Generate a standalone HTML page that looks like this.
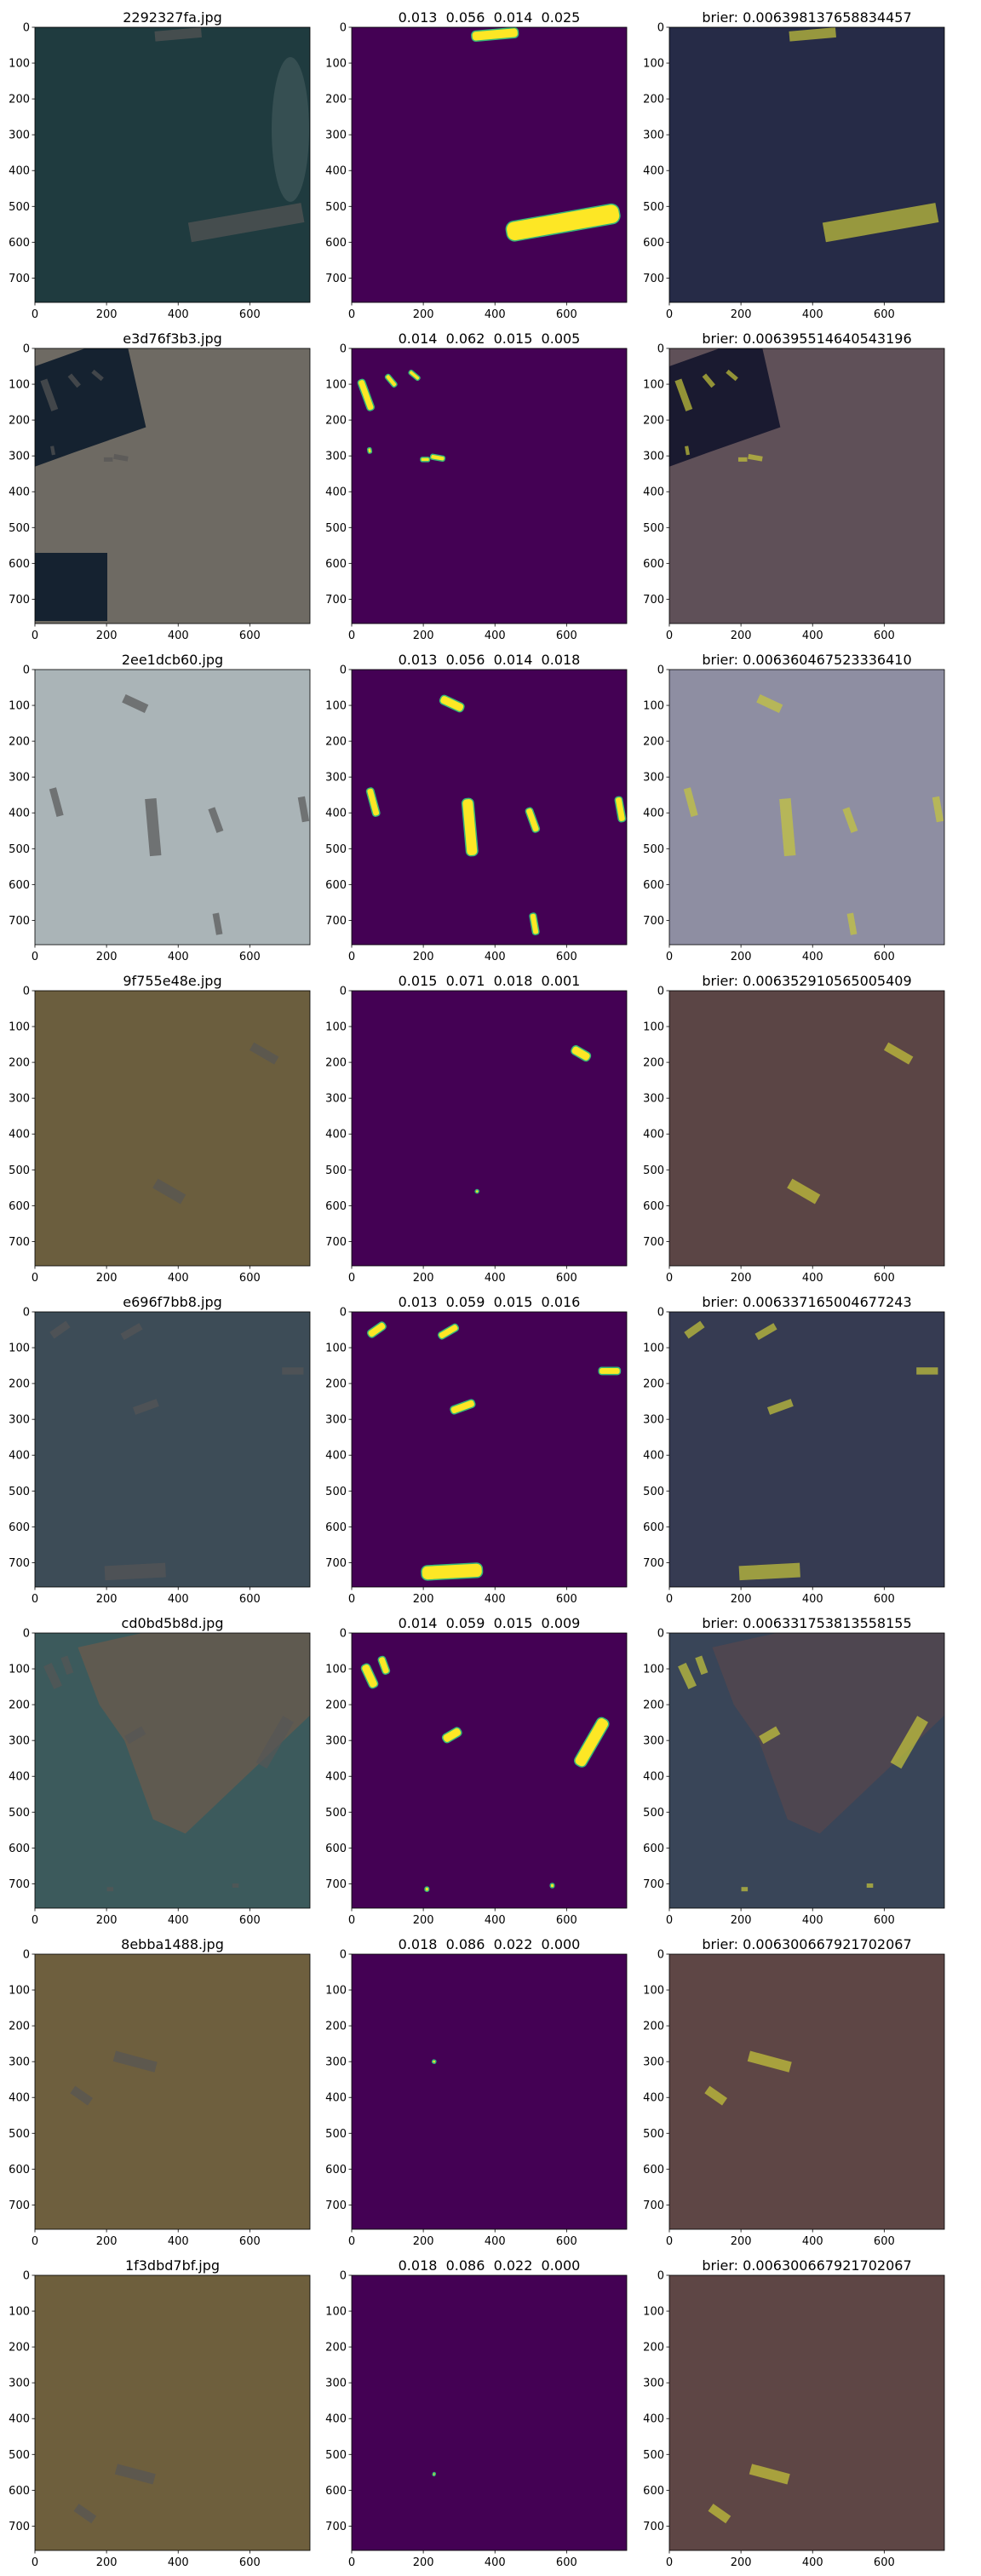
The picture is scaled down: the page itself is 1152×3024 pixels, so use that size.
<!DOCTYPE html>
<html><head><meta charset="utf-8">
<style>
html,body{margin:0;padding:0;background:#fff;}
svg{display:block;font-family:"DejaVu Sans","Liberation Sans",sans-serif;}
</style></head>
<body>
<svg id="fig" width="1152" height="3024" viewBox="0 0 1152 3024" xmlns="http://www.w3.org/2000/svg"></svg>
<script>
// ---- data ----
const imageNames = ["2292327fa.jpg","e3d76f3b3.jpg","2ee1dcb60.jpg","9f755e48e.jpg","e696f7bb8.jpg","cd0bd5b8d.jpg","8ebba1488.jpg","1f3dbd7bf.jpg"];
const maskScores = ["0.013  0.056  0.014  0.025","0.014  0.062  0.015  0.005","0.013  0.056  0.014  0.018","0.015  0.071  0.018  0.001","0.013  0.059  0.015  0.016","0.014  0.059  0.015  0.009","0.018  0.086  0.022  0.000","0.018  0.086  0.022  0.000"];
const brierScores = ["0.006398137658834457","0.006395514640543196","0.006360467523336410","0.006352910565005409","0.006337165004677243","0.006331753813558155","0.006300667921702067","0.006300667921702067"];
const imageColors = ["#1f3b3f","#6e6a63","#aab4b7","#6b5e3e","#3d4c57","#3c5a5c","#6e5f3e","#6e5f3d"];
const overlayColors = ["#262b47","#5f5058","#8e8ea2","#5b4545","#363b52","#394558","#5e4645","#5e4645"];
// ships per row: [cx, cy, length, width, angleDeg] in image pixel units (0-768)
const ships = [
 [[400,20,130,28,-5],[590,545,320,55,-10]],
 [[40,130,90,20,70],[110,90,40,14,50],[175,75,35,12,40],[240,305,40,14,10],[205,310,25,12,0],[50,285,25,10,80]],
 [[280,95,70,25,25],[330,440,160,32,85],[60,370,80,20,75],[505,420,70,20,70],[750,390,70,20,80],[510,710,60,18,80]],
 [[640,175,80,25,30],[375,560,90,30,30]],
 [[70,50,55,22,-35],[270,55,60,20,-30],[720,165,60,20,0],[310,265,70,22,-20],[280,725,170,40,-3]],
 [[50,120,70,25,65],[90,90,50,20,70],[280,285,55,25,-30],[670,305,150,35,-60],[210,715,18,12,0],[560,705,18,12,0]],
 [[280,300,120,30,15],[130,395,60,25,35]],
 [[280,555,110,30,15],[140,665,60,25,35]]
];
// mask detection scale per row (fraction of ship drawn in mask)
const maskVisible = [
 [1,1],[1,1,1,1,1,0.6],[1,1,1,1,1,1],[0.7,0.1],[1,1,1,1,1],[1,1,1,1,0.6,0.6],[0.08,0],[0.06,0]
];
// mask x-offset for tiny detections (image units)
const maskShiftX = [[0,0],[0,0,0,0,0,0],[0,0,0,0,0,0],[0,-25],[0,0,0,0,0],[0,0,0,0,0,0],[-50,0],[-50,0]];
const xTicks = [0,200,400,600];
const yTicks = [0,100,200,300,400,500,600,700];

// ---- layout ----
const NS="http://www.w3.org/2000/svg";
const svg=document.getElementById('fig');
const colX=[41,413,786], panelW=323, panelH=323, top0=32, pitch=377, N=768;
function sx(px,v){return px+v*panelW/N;}
function sy(py,v){return py+v*panelH/N;}
function el(tag,attrs,parent){const e=document.createElementNS(NS,tag);for(const k in attrs)e.setAttribute(k,attrs[k]);(parent||svg).appendChild(e);return e;}
function poly(g,px,py,pts,fill){
  const p=pts.map(q=>sx(px,q[0])+','+sy(py,q[1])).join(' ');
  el('polygon',{points:p,fill:fill},g);
}
const landRow6=[[300,0],[768,0],[768,230],[420,560],[330,520],[250,300],[180,200],[120,40]];
const waterRow2=[[0,50],[140,0],[260,0],[310,220],[110,290],[0,330]];

function drawShips(g,px,py,row,fill,opacity,scaleArr,stroke){
  ships[row].forEach((s,i)=>{
    const f=scaleArr?scaleArr[row][i]:1;
    if(f<=0)return;
    const L=s[2]*panelW/N*f, W=s[3]*panelW/N*(f<0.3?Math.max(f*3,0.3):1);
    const cx=sx(px,s[0]+(scaleArr?maskShiftX[row][i]:0)), cy=sy(py,s[1]);
    const r=el('rect',{x:cx-L/2,y:cy-W/2,width:L,height:W,rx:scaleArr?W/2.5:0,fill:fill,'fill-opacity':opacity,transform:`rotate(${s[4]} ${cx} ${cy})`},g);
    if(stroke){r.setAttribute('stroke',stroke);r.setAttribute('stroke-width','1.5');}
    
    
  });
}

function axes(g,px,py){
  el('rect',{x:px,y:py,width:panelW,height:panelH,fill:'none',stroke:'#000','stroke-width':0.8},g);
  yTicks.forEach(t=>{
    const y=sy(py,t);
    el('line',{x1:px-3.5,y1:y,x2:px,y2:y,stroke:'#000','stroke-width':0.8},g);
    const tx=el('text',{x:px-6,y:y+4.5,'font-size':13,'text-anchor':'end',fill:'#000'},g);tx.textContent=t;
    
    
  });
  xTicks.forEach(t=>{
    const x=sx(px,t);
    el('line',{x1:x,y1:py+panelH,x2:x,y2:py+panelH+3.5,stroke:'#000','stroke-width':0.8},g);
    const tx=el('text',{x:x,y:py+panelH+18,'font-size':13,'text-anchor':'middle',fill:'#000'},g);tx.textContent=t;
    
    
  });
}
function title(g,px,py,txt){
  const t=el('text',{x:px+panelW/2,y:py-6,'font-size':16,'text-anchor':'middle',fill:'#000','xml:space':'preserve'},g);
  t.style.whiteSpace='pre';t.textContent=txt;
  
  
}

for(let r=0;r<imageNames.length;r++){
  const py=top0+r*pitch;
  // image panel
  let g=el('g',{});
  
  
  let px=colX[0];
  el('rect',{x:px,y:py,width:panelW,height:panelH,fill:imageColors[r]},g);
  if(r===1){poly(g,px,py,waterRow2,'#152230');
            el('rect',{x:px,y:py+240,width:85,height:80,fill:'#152230'},g);}
  if(r===5){poly(g,px,py,landRow6,'#5f5a50');}
  if(r===0){el('ellipse',{cx:px+300,cy:py+120,rx:22,ry:85,fill:'#7a8a8a','fill-opacity':0.25},g);}
  drawShips(g,px,py,r,'#555',0.7,null,null);
  title(g,px,py,imageNames[r]);axes(g,px,py);
  // mask panel
  g=el('g',{});
  
  
  px=colX[1];
  el('rect',{x:px,y:py,width:panelW,height:panelH,fill:'#440154'},g);
  drawShips(g,px,py,r,'#fde725',1,maskVisible,'#35b779');
  title(g,px,py,maskScores[r]);axes(g,px,py);
  // overlay panel
  g=el('g',{});
  
  
  px=colX[2];
  el('rect',{x:px,y:py,width:panelW,height:panelH,fill:overlayColors[r]},g);
  if(r===1){poly(g,px,py,waterRow2,'#1a1a30');}
  if(r===5){poly(g,px,py,landRow6,'#4e4650');}
  drawShips(g,px,py,r,'#c8c83a',0.7,null,null);
  title(g,px,py,'brier: '+brierScores[r]);axes(g,px,py);
}
</script>
</body></html>
